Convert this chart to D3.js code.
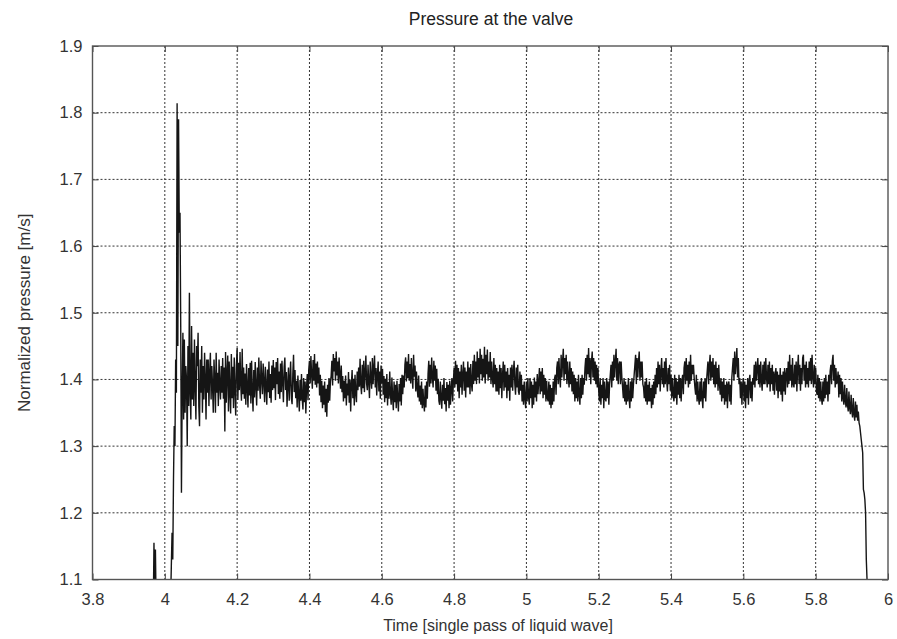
<!DOCTYPE html>
<html>
<head>
<meta charset="utf-8">
<script src="https://cdn.jsdelivr.net/npm/d3@7/dist/d3.min.js"></script>
<style>
  body { margin: 0; background: #fff; }
  text { font-family: "Liberation Sans", Arial, sans-serif; fill: #222; }
</style>
</head>
<body>
<div id="canvas"></div>
<script>
// sampled series: one value every 0.002 time units, starting at 3.96 (each row = 0.1)
const tStart = 3.96;
const tStep = 0.002;
const pressure = [
  1.05, 1.04, 1.05, 1.06, 1.05, 1.155, 1.06, 1.145, 1.06, 1.05, 1.04, 1.05, 1.04, 1.05, 1.06, 1.05, 1.04, 1.05, 1.06, 1.05,
  1.05, 1.06, 1.05, 1.07, 1.06, 1.08, 1.05, 1.09, 1.07, 1.12, 1.17, 1.13, 1.25, 1.33, 1.30, 1.43, 1.38, 1.814, 1.45, 1.79,
  1.62, 1.65, 1.48, 1.23, 1.38, 1.47, 1.34, 1.46, 1.35, 1.42,
  1.40, 1.30, 1.45, 1.36, 1.53, 1.38, 1.34, 1.48, 1.37, 1.44, 1.36, 1.46, 1.39, 1.34, 1.45, 1.42, 1.47, 1.36, 1.33, 1.43,
  1.38, 1.45, 1.35, 1.42, 1.37, 1.44, 1.40, 1.34, 1.43, 1.38, 1.43, 1.36, 1.41, 1.44, 1.37, 1.42, 1.39, 1.35, 1.43, 1.40,
  1.35, 1.44, 1.38, 1.41, 1.36, 1.43, 1.39, 1.37, 1.42, 1.38,
  1.432, 1.371, 1.418, 1.322, 1.441, 1.365, 1.408, 1.436, 1.352, 1.427, 1.381, 1.349, 1.438, 1.372, 1.419, 1.357, 1.433, 1.386, 1.346, 1.421,
  1.447, 1.369, 1.425, 1.384, 1.441, 1.392, 1.368, 1.446, 1.378, 1.418, 1.371, 1.409, 1.362, 1.423, 1.388, 1.358, 1.417, 1.376, 1.425, 1.364,
  1.428, 1.381, 1.352, 1.414, 1.373, 1.426, 1.389, 1.361, 1.418, 1.383,
  1.433, 1.392, 1.371, 1.428, 1.401, 1.378, 1.424, 1.396, 1.366, 1.419, 1.389, 1.362, 1.415, 1.381, 1.427, 1.372, 1.408, 1.365, 1.421, 1.384,
  1.429, 1.387, 1.418, 1.369, 1.426, 1.393, 1.432, 1.378, 1.412, 1.371, 1.424, 1.381, 1.428, 1.395, 1.366, 1.419, 1.433, 1.384, 1.411, 1.359,
  1.392, 1.418, 1.368, 1.401, 1.427, 1.372, 1.363, 1.408, 1.437, 1.381,
  1.414, 1.372, 1.398, 1.358, 1.406, 1.377, 1.352, 1.399, 1.368, 1.408, 1.371, 1.355, 1.402, 1.366, 1.397, 1.349, 1.389, 1.408, 1.369, 1.414,
  1.428, 1.394, 1.435, 1.407, 1.386, 1.429, 1.398, 1.438, 1.392, 1.424, 1.388, 1.427, 1.394, 1.418, 1.376, 1.407, 1.366, 1.398, 1.357, 1.391,
  1.362, 1.397, 1.351, 1.386, 1.344, 1.392, 1.365, 1.402, 1.368, 1.397,
  1.405, 1.428, 1.391, 1.438, 1.412, 1.432, 1.398, 1.442, 1.406, 1.427, 1.394, 1.433, 1.408, 1.386, 1.421, 1.381, 1.405, 1.367, 1.398, 1.372,
  1.406, 1.361, 1.394, 1.376, 1.411, 1.365, 1.399, 1.352, 1.393, 1.414, 1.372, 1.401, 1.361, 1.407, 1.379, 1.366, 1.412, 1.384, 1.418, 1.389,
  1.431, 1.392, 1.378, 1.422, 1.387, 1.428, 1.381, 1.411, 1.436, 1.394,
  1.384, 1.422, 1.396, 1.372, 1.427, 1.401, 1.386, 1.432, 1.393, 1.418, 1.436, 1.388, 1.417, 1.376, 1.408, 1.427, 1.382, 1.412, 1.371, 1.421,
  1.394, 1.416, 1.377, 1.405, 1.366, 1.401, 1.372, 1.408, 1.361, 1.396, 1.371, 1.412, 1.378, 1.362, 1.403, 1.373, 1.354, 1.397, 1.366, 1.392,
  1.357, 1.398, 1.372, 1.352, 1.393, 1.367, 1.402, 1.361, 1.407, 1.378,
  1.406, 1.388, 1.422, 1.433, 1.397, 1.427, 1.402, 1.438, 1.398, 1.423, 1.394, 1.432, 1.403, 1.386, 1.437, 1.404, 1.421, 1.382, 1.412, 1.387,
  1.373, 1.406, 1.367, 1.391, 1.362, 1.397, 1.357, 1.386, 1.364, 1.352, 1.391, 1.358, 1.397, 1.371, 1.408, 1.428, 1.389, 1.422, 1.394, 1.433,
  1.403, 1.388, 1.428, 1.398, 1.421, 1.383, 1.416, 1.378, 1.401, 1.368,
  1.362, 1.397, 1.372, 1.356, 1.392, 1.368, 1.402, 1.363, 1.387, 1.352, 1.396, 1.368, 1.392, 1.357, 1.398, 1.362, 1.386, 1.402, 1.367, 1.397,
  1.417, 1.388, 1.428, 1.393, 1.422, 1.382, 1.417, 1.372, 1.412, 1.388, 1.422, 1.377, 1.407, 1.427, 1.383, 1.418, 1.373, 1.412, 1.388, 1.427,
  1.388, 1.418, 1.378, 1.423, 1.393, 1.382, 1.428, 1.393, 1.437, 1.398,
  1.427, 1.393, 1.442, 1.403, 1.432, 1.394, 1.446, 1.408, 1.437, 1.398, 1.431, 1.403, 1.449, 1.394, 1.437, 1.408, 1.445, 1.398, 1.427, 1.403,
  1.441, 1.393, 1.427, 1.402, 1.388, 1.432, 1.393, 1.422, 1.382, 1.417, 1.382, 1.412, 1.377, 1.422, 1.387, 1.417, 1.372, 1.407, 1.427, 1.383,
  1.422, 1.388, 1.412, 1.372, 1.417, 1.383, 1.407, 1.368, 1.418, 1.388,
  1.422, 1.383, 1.412, 1.428, 1.392, 1.377, 1.418, 1.388, 1.422, 1.382, 1.377, 1.412, 1.383, 1.407, 1.367, 1.392, 1.362, 1.397, 1.372, 1.357,
  1.397, 1.367, 1.402, 1.373, 1.362, 1.402, 1.372, 1.397, 1.357, 1.392, 1.362, 1.403, 1.373, 1.397, 1.367, 1.408, 1.378, 1.397, 1.417, 1.378,
  1.412, 1.382, 1.417, 1.372, 1.407, 1.377, 1.402, 1.367, 1.398, 1.372,
  1.367, 1.397, 1.362, 1.392, 1.357, 1.387, 1.362, 1.397, 1.367, 1.402, 1.407, 1.377, 1.417, 1.427, 1.393, 1.432, 1.403, 1.388, 1.437, 1.403,
  1.427, 1.446, 1.398, 1.432, 1.408, 1.437, 1.393, 1.427, 1.403, 1.388, 1.427, 1.393, 1.417, 1.382, 1.412, 1.378, 1.407, 1.367, 1.402, 1.372,
  1.397, 1.367, 1.407, 1.377, 1.362, 1.402, 1.372, 1.407, 1.377, 1.402,
  1.392, 1.417, 1.432, 1.398, 1.437, 1.408, 1.447, 1.403, 1.432, 1.393, 1.427, 1.442, 1.403, 1.432, 1.398, 1.427, 1.393, 1.422, 1.388, 1.417,
  1.382, 1.367, 1.402, 1.362, 1.392, 1.372, 1.402, 1.357, 1.397, 1.372, 1.367, 1.402, 1.372, 1.397, 1.362, 1.392, 1.407, 1.422, 1.388, 1.427,
  1.398, 1.437, 1.403, 1.427, 1.446, 1.398, 1.432, 1.393, 1.422, 1.427,
  1.393, 1.427, 1.403, 1.388, 1.372, 1.402, 1.367, 1.397, 1.362, 1.392, 1.367, 1.402, 1.372, 1.357, 1.397, 1.367, 1.402, 1.372, 1.392, 1.407,
  1.422, 1.437, 1.393, 1.432, 1.403, 1.427, 1.442, 1.398, 1.427, 1.403, 1.427, 1.393, 1.388, 1.372, 1.397, 1.367, 1.402, 1.362, 1.392, 1.367,
  1.397, 1.367, 1.387, 1.357, 1.392, 1.362, 1.397, 1.372, 1.407, 1.378,
  1.417, 1.388, 1.427, 1.393, 1.422, 1.382, 1.412, 1.432, 1.393, 1.417, 1.388, 1.427, 1.393, 1.432, 1.398, 1.382, 1.417, 1.393, 1.422, 1.383,
  1.407, 1.372, 1.402, 1.377, 1.367, 1.407, 1.372, 1.402, 1.362, 1.397, 1.377, 1.407, 1.372, 1.402, 1.367, 1.397, 1.407, 1.378, 1.417, 1.427,
  1.393, 1.432, 1.398, 1.422, 1.388, 1.427, 1.393, 1.437, 1.398, 1.422,
  1.408, 1.422, 1.402, 1.388, 1.377, 1.407, 1.367, 1.397, 1.372, 1.362, 1.397, 1.367, 1.402, 1.372, 1.357, 1.397, 1.372, 1.402, 1.367, 1.397,
  1.412, 1.427, 1.393, 1.422, 1.437, 1.398, 1.427, 1.403, 1.432, 1.393, 1.422, 1.388, 1.427, 1.393, 1.417, 1.383, 1.422, 1.393, 1.377, 1.402,
  1.367, 1.397, 1.372, 1.402, 1.362, 1.392, 1.367, 1.397, 1.357, 1.392,
  1.397, 1.367, 1.392, 1.362, 1.402, 1.417, 1.432, 1.398, 1.442, 1.408, 1.427, 1.447, 1.403, 1.432, 1.393, 1.402, 1.372, 1.397, 1.362, 1.392,
  1.402, 1.367, 1.397, 1.357, 1.392, 1.372, 1.402, 1.362, 1.397, 1.407, 1.372, 1.397, 1.367, 1.402, 1.392, 1.422, 1.388, 1.427, 1.398, 1.417,
  1.432, 1.393, 1.422, 1.388, 1.427, 1.398, 1.383, 1.422, 1.393, 1.427,
  1.393, 1.432, 1.403, 1.388, 1.422, 1.393, 1.427, 1.382, 1.417, 1.393, 1.422, 1.383, 1.412, 1.377, 1.407, 1.417, 1.383, 1.412, 1.372, 1.407,
  1.382, 1.417, 1.377, 1.407, 1.367, 1.412, 1.382, 1.417, 1.377, 1.408, 1.417, 1.388, 1.427, 1.393, 1.437, 1.398, 1.422, 1.388, 1.432, 1.393,
  1.388, 1.422, 1.393, 1.427, 1.382, 1.417, 1.437, 1.393, 1.422, 1.383,
  1.417, 1.393, 1.432, 1.437, 1.398, 1.422, 1.388, 1.427, 1.393, 1.417, 1.388, 1.427, 1.398, 1.432, 1.393, 1.437, 1.403, 1.388, 1.422, 1.393,
  1.417, 1.383, 1.377, 1.407, 1.372, 1.402, 1.367, 1.397, 1.372, 1.362, 1.397, 1.367, 1.402, 1.372, 1.407, 1.377, 1.397, 1.367, 1.407, 1.378,
  1.412, 1.422, 1.393, 1.427, 1.437, 1.398, 1.422, 1.388, 1.417, 1.393,
  1.397, 1.412, 1.373, 1.407, 1.378, 1.402, 1.367, 1.397, 1.372, 1.362, 1.392, 1.368, 1.358, 1.387, 1.362, 1.352, 1.382, 1.357, 1.348, 1.377,
  1.353, 1.343, 1.372, 1.348, 1.338, 1.367, 1.343, 1.362, 1.338, 1.352, 1.335, 1.33, 1.32, 1.31, 1.30, 1.29, 1.235, 1.23, 1.22, 1.20,
  1.13, 1.10, 1.05
];
const xTicks = [3.8, 4, 4.2, 4.4, 4.6, 4.8, 5, 5.2, 5.4, 5.6, 5.8, 6];
const yTicks = [1.1, 1.2, 1.3, 1.4, 1.5, 1.6, 1.7, 1.8, 1.9];

const W = 897, H = 639;
const margin = { top: 46, right: 9, bottom: 59.5, left: 92.5 };
const width = W - margin.left - margin.right;
const height = H - margin.top - margin.bottom;

const svg = d3.select("#canvas")
  .append("svg")
  .attr("width", W)
  .attr("height", H);

const g = svg.append("g")
  .attr("transform", `translate(${margin.left},${margin.top})`);

const x = d3.scaleLinear().domain([3.8, 6]).range([0, width]);
const y = d3.scaleLinear().domain([1.1, 1.9]).range([height, 0]);

// grid
g.append("g")
  .selectAll("line")
  .data(xTicks.slice(1, -1))
  .enter().append("line")
  .attr("x1", d => x(d)).attr("x2", d => x(d))
  .attr("y1", 0).attr("y2", height)
  .attr("stroke", "#333")
  .attr("stroke-width", 1)
  .attr("stroke-dasharray", "2,2");

g.append("g")
  .selectAll("line")
  .data(yTicks.slice(1, -1))
  .enter().append("line")
  .attr("x1", 0).attr("x2", width)
  .attr("y1", d => y(d)).attr("y2", d => y(d))
  .attr("stroke", "#333")
  .attr("stroke-width", 1)
  .attr("stroke-dasharray", "2,2");

// data line
svg.append("clipPath").attr("id", "clip")
  .append("rect").attr("width", width).attr("height", height);

const pts = pressure.map((v, i) => ({ t: tStart + i * tStep, v: v }));

g.append("path")
  .datum(pts)
  .attr("clip-path", "url(#clip)")
  .attr("fill", "none")
  .attr("stroke", "#151515")
  .attr("stroke-width", 1.4)
  .attr("stroke-linejoin", "bevel")
  .attr("d", d3.line().x(d => x(d.t)).y(d => y(d.v)));

// axes: inward ticks on all four sides, gnuplot style
const fmt = d => String(+d.toFixed(1));
const tick = 6;

const xb = g.append("g")
  .attr("transform", `translate(0,${height})`)
  .call(d3.axisBottom(x).tickValues(xTicks).tickFormat(fmt).tickSizeInner(-tick).tickSizeOuter(0).tickPadding(14));
const xt = g.append("g")
  .call(d3.axisTop(x).tickValues(xTicks).tickFormat("").tickSizeInner(-tick).tickSizeOuter(0));
const yl = g.append("g")
  .call(d3.axisLeft(y).tickValues(yTicks).tickFormat(fmt).tickSizeInner(-tick).tickSizeOuter(0).tickPadding(10));
const yr = g.append("g")
  .attr("transform", `translate(${width},0)`)
  .call(d3.axisRight(y).tickValues(yTicks).tickFormat("").tickSizeInner(-tick).tickSizeOuter(0));

[xb, xt, yl, yr].forEach(a => {
  a.select(".domain").remove();
  a.selectAll("line").attr("stroke", "#444");
  a.selectAll("text").style("font-size", "16.5px").style("fill", "#333");
});

g.append("rect")
  .attr("width", width).attr("height", height)
  .attr("fill", "none")
  .attr("stroke", "#555")
  .attr("stroke-width", 1.4);

// titles
svg.append("text")
  .attr("x", 491)
  .attr("y", 25)
  .attr("text-anchor", "middle")
  .style("font-size", "17.5px")
  .text("Pressure at the valve");

svg.append("text")
  .attr("x", 498)
  .attr("y", 631)
  .attr("text-anchor", "middle")
  .style("font-size", "16px")
  .style("fill", "#333")
  .text("Time [single pass of liquid wave]");

svg.append("text")
  .attr("transform", "rotate(-90)")
  .attr("x", -(margin.top + height / 2))
  .attr("y", 30)
  .attr("text-anchor", "middle")
  .style("font-size", "17px")
  .style("fill", "#333")
  .text("Normalized pressure [m/s]");
</script>
</body>
</html>
